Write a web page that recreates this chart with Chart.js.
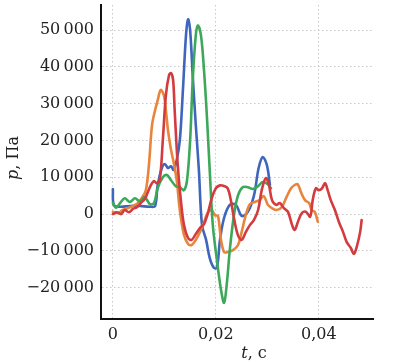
<!DOCTYPE html>
<html>
<head>
<meta charset="utf-8">
<script src="https://cdn.jsdelivr.net/npm/chart.js@4/dist/chart.umd.min.js"></script>
<style>
html,body{margin:0;padding:0;background:#fff;}
canvas{display:block;}
</style>
</head>
<body>
<canvas id="c" width="393" height="363"></canvas>
<script>
// ---- data (t in s, p in Pa) ----
const blueT  = [0,0.0002,0.0014,0.0033,0.0052,0.0072,0.0082,0.0087,0.0095,0.0101,0.0107,0.0113,0.0118,0.0124,0.0130,0.0136,0.0142,0.0146,0.0150,0.0155,0.0161,0.0167,0.0173,0.0181,0.0188,0.0196,0.0202,0.0208,0.0216,0.0227,0.0239,0.0250,0.0262,0.0274,0.0283,0.0291,0.0299,0.0305];
const blueP  = [6800,2500,2000,2200,2200,2000,2200,7900,12500,13600,12500,13000,12000,14700,20000,33600,48600,52900,50000,37700,24200,12000,-2900,-7000,-11900,-14600,-14600,-7000,-1000,2500,2500,-500,600,5100,12500,15500,13300,7900];

const orangeT = [0,0.0010,0.0019,0.0029,0.0039,0.0049,0.0056,0.0064,0.0070,0.0076,0.0082,0.0087,0.0093,0.0099,0.0103,0.0107,0.0113,0.0118,0.0124,0.0130,0.0138,0.0146,0.0153,0.0161,0.0169,0.0177,0.0184,0.0192,0.0198,0.0204,0.0210,0.0216,0.0223,0.0233,0.0243,0.0250,0.0258,0.0266,0.0276,0.0285,0.0293,0.0301,0.0309,0.0318,0.0328,0.0338,0.0346,0.0353,0.0359,0.0365,0.0373,0.0381,0.0386,0.0392,0.0398];
const orangeP = [600,300,1100,1600,2200,3000,4300,6500,13300,24100,28200,30900,33700,32300,28200,22800,17400,14100,9200,1100,-5600,-8100,-8400,-7000,-4900,-2200,300,1100,-300,-500,-7000,-10300,-10300,-9800,-8400,-4900,-300,2700,3300,3800,4900,2500,1600,1100,1900,4900,7000,7900,8100,6000,3800,3000,1100,600,-2100];

const greenT = [0,0.0006,0.0014,0.0023,0.0033,0.0043,0.0052,0.0062,0.0072,0.0080,0.0087,0.0097,0.0105,0.0113,0.0122,0.0130,0.0138,0.0144,0.0150,0.0155,0.0161,0.0165,0.0171,0.0177,0.0183,0.0188,0.0194,0.0202,0.0210,0.0216,0.0221,0.0227,0.0235,0.0243,0.0252,0.0262,0.0272,0.0282,0.0291,0.0301,0.0307];
const greenP = [3000,1700,3000,4300,3300,4300,3500,4600,2700,3000,7000,10000,10600,9200,7600,7300,6500,9200,20000,36300,48600,51300,48600,39000,25500,12000,-2900,-12500,-20600,-24100,-19200,-9800,-300,5100,7300,7300,6800,7600,8700,8100,7000];

const redT = [0,0.0008,0.0016,0.0023,0.0031,0.0039,0.0047,0.0054,0.0062,0.0068,0.0074,0.0080,0.0085,0.0091,0.0097,0.0103,0.0109,0.0113,0.0117,0.0120,0.0126,0.0132,0.0138,0.0146,0.0153,0.0161,0.0169,0.0177,0.0184,0.0192,0.0200,0.0208,0.0216,0.0223,0.0229,0.0235,0.0243,0.0250,0.0258,0.0266,0.0274,0.0282,0.0289,0.0297,0.0303,0.0309,0.0317,0.0324,0.0332,0.0340,0.0348,0.0353,0.0359,0.0367,0.0375,0.0383,0.0388,0.0394,0.0400,0.0406,0.0412,0.0417,0.0423,0.0431,0.0439,0.0447,0.0454,0.0462,0.0468,0.0474,0.0480,0.0483];
const redP = [0,500,0,1100,500,1400,1900,3000,4100,6000,7900,9000,8400,9200,20100,32300,37700,38300,36400,28200,13300,3800,-2900,-6500,-7000,-5400,-3800,-2700,0,4300,7000,7800,7600,7000,3800,-1000,-5800,-7000,-4900,-3000,-1600,1100,6500,9800,7900,3800,2500,3000,1600,600,-3000,-4300,-2200,300,600,-700,3800,7000,6500,7000,8400,6500,3800,1100,-2200,-4900,-7600,-9200,-10800,-8600,-4900,-1600];

const xTicks = [0, 0.02, 0.04];
const yTicks = [-20000, -10000, 0, 10000, 20000, 30000, 40000, 50000];
const xTickLabels = ["0", "0,02", "0,04"];
const yTickLabels = ["\u221220\u2009000", "\u221210\u2009000", "0", "10\u2009000", "20\u2009000", "30\u2009000", "40\u2009000", "50\u2009000"];

const COLORS = { blue:'#3f66bd', orange:'#e8843c', green:'#3ea85a', red:'#d33b3e' };

function pts(t, p){ return t.map((v,i)=>({x:v, y:p[i]})); }

const FONT = '"DejaVu Serif", "Liberation Serif", serif';

const axisTitles = {
  id:'axisTitles',
  afterDraw(chart){
    const ctx = chart.ctx;
    ctx.save();
    ctx.fillStyle = '#222';
    ctx.textBaseline = 'middle';
    const parts = [['t','italic 16px '+FONT], [', \u0441','16px '+FONT]];
    let w = 0;
    parts.forEach(([s,f])=>{ ctx.font=f; w += ctx.measureText(s).width; });
    let x = 254 - w/2;
    parts.forEach(([s,f])=>{ ctx.font=f; ctx.textAlign='left'; ctx.fillText(s, x, 354); x += ctx.measureText(s).width; });
    const yparts = [['p','italic 16px '+FONT], [', \u041f\u0430','16px '+FONT]];
    ctx.translate(14, 158);
    ctx.rotate(-Math.PI/2);
    w = 0;
    yparts.forEach(([s,f])=>{ ctx.font=f; w += ctx.measureText(s).width; });
    x = -w/2;
    yparts.forEach(([s,f])=>{ ctx.font=f; ctx.textAlign='left'; ctx.fillText(s, x, 0); x += ctx.measureText(s).width; });
    ctx.restore();
  }
};

const ds = (label, t, p, color, order) => ({
  label, data: pts(t,p), borderColor: color, backgroundColor: color,
  borderWidth: 2.6, pointRadius: 0, tension: 0.35, fill: false, order,
  borderCapStyle: 'round', borderJoinStyle: 'round'
});

new Chart(document.getElementById('c'), {
  type: 'line',
  data: { datasets: [
    ds('1', blueT, blueP, COLORS.blue, 3),
    ds('2', orangeT, orangeP, COLORS.orange, 2),
    ds('3', greenT, greenP, COLORS.green, 1),
    ds('4', redT, redP, COLORS.red, 0)
  ]},
  options: {
    responsive: false, animation: false, devicePixelRatio: 1,
    layout: { padding: { top: 5, right: 20, left: 0, bottom: 0 } },
    plugins: { legend: { display: false }, tooltip: { enabled: false } },
    scales: {
      x: {
        type: 'linear', min: -0.0023, max: 0.0505,
        afterBuildTicks: (a) => { a.ticks = xTicks.map(v => ({ value: v })); },
        afterFit: (s) => { s.height = 44; s.paddingRight = 0; },
        ticks: {
          autoSkip: false, maxRotation: 0, padding: 6, color: '#222',
          font: { family: FONT, size: 16 },
          callback: (v) => { const i = xTicks.indexOf(v); return i >= 0 ? xTickLabels[i] : ''; }
        },
        grid: { color: '#c9c9c9', lineWidth: 1, drawTicks: false },
        border: { display: true, color: '#111', width: 2, dash: [1.5, 2.5] }
      },
      y: {
        type: 'linear', min: -28500, max: 56800,
        afterBuildTicks: (a) => { a.ticks = yTicks.map(v => ({ value: v })); },
        afterFit: (s) => { s.width = 101; s.paddingTop = 0; s.paddingBottom = 0; },
        ticks: {
          autoSkip: false, padding: 7, color: '#222',
          font: { family: FONT, size: 16 },
          callback: (v) => { const i = yTicks.indexOf(v); return i >= 0 ? yTickLabels[i] : ''; }
        },
        grid: { color: '#c9c9c9', lineWidth: 1, drawTicks: false },
        border: { display: true, color: '#111', width: 2, dash: [1.5, 2.5] }
      }
    }
  },
  plugins: [axisTitles]
});
</script>
</body>
</html>
